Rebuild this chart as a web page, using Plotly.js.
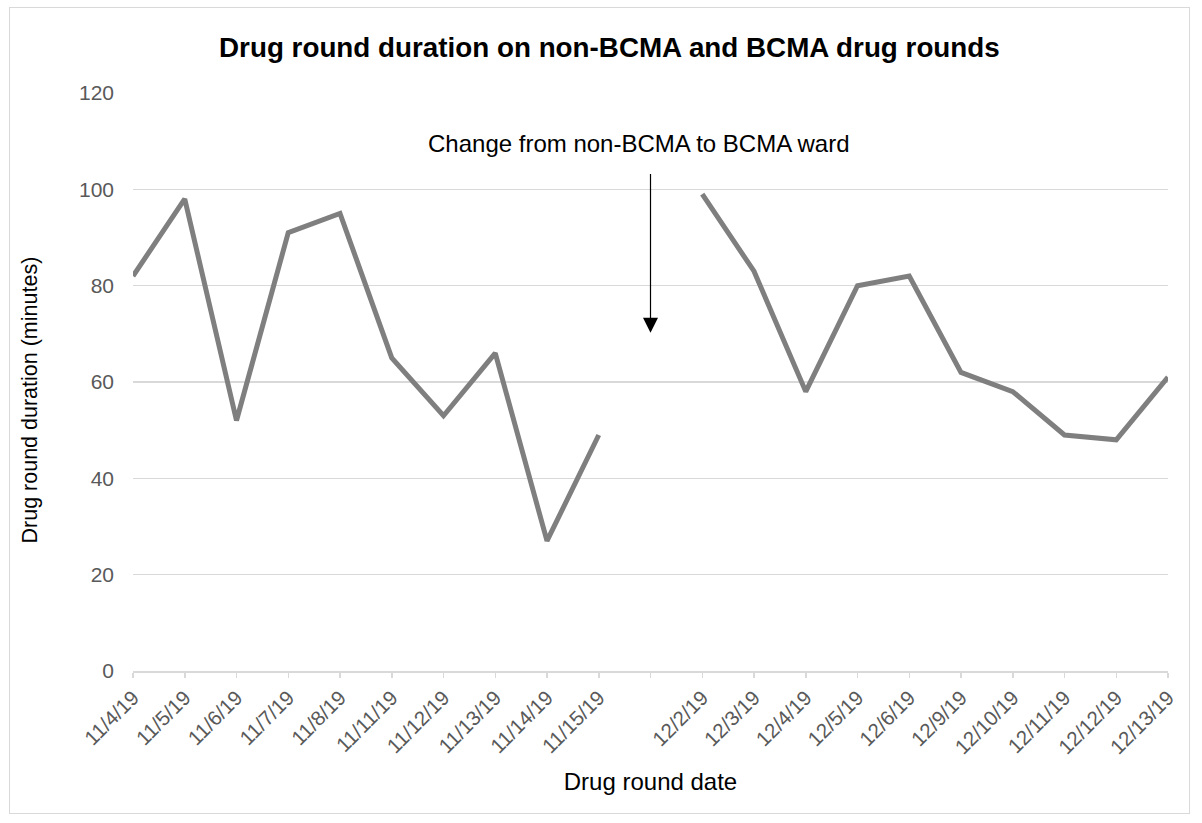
<!DOCTYPE html>
<html>
<head>
<meta charset="utf-8">
<script src="https://cdn.plot.ly/plotly-3.0.1.min.js"></script>
<style>
html,body{margin:0;padding:0;background:#fff;}
#frame{position:absolute;left:9px;top:7px;width:1181px;height:807px;border:1px solid #d9d9d9;box-sizing:border-box;pointer-events:none;z-index:10;}
#chart{width:1202px;height:823px;}
</style>
</head>
<body>
<div id="frame"></div>
<div id="chart"></div>
<script>
const dates = ["11/4/19","11/5/19","11/6/19","11/7/19","11/8/19","11/11/19","11/12/19","11/13/19","11/14/19","11/15/19"," ","12/2/19","12/3/19","12/4/19","12/5/19","12/6/19","12/9/19","12/10/19","12/11/19","12/12/19","12/13/19"];
const durations = [82,98,52,91,95,65,53,66,27,49,null,99,83,58,80,82,62,58,49,48,61];
const annotationText = "Change from non-BCMA to BCMA ward";
const yTitle = "Drug round duration (minutes)";

const trace = {
  x: dates, y: durations, type: 'scatter', mode: 'lines',
  line: {color: '#7f7f7f', width: 5}, connectgaps: false, hoverinfo: 'x+y'
};
const layout = {
  width: 1202, height: 823,
  margin: {l: 133, r: 34, t: 93, b: 152},
  paper_bgcolor: '#fff', plot_bgcolor: '#fff',
  font: {family: 'Liberation Sans, Arial, sans-serif'},
  showlegend: false,
  title: {text: '<b>Drug round duration on non-BCMA and BCMA drug rounds</b>', x: 0.507, xanchor: 'center', y: 0.943, yanchor: 'middle', font: {size: 27.8, color: '#000'}},
  xaxis: {
    type: 'category', range: [0, 20], tickangle: -45,
    tickfont: {size: 20.5, color: '#595959'},
    showgrid: false, showline: true, linecolor: '#d9d9d9', linewidth: 1.5,
    ticks: 'outside', ticklen: 5, tickcolor: '#d9d9d9', tickwidth: 1.5,
    zeroline: false,
    title: {text: 'Drug round date', font: {size: 24, color: '#000'}, standoff: 16}
  },
  yaxis: {
    range: [0, 120], dtick: 20, tickfont: {size: 21, color: '#595959'},
    showgrid: true, gridcolor: '#d9d9d9', gridwidth: 1.5, zeroline: false, showline: false,
    ticks: '', ticklabelstandoff: 18
  },
  annotations: [
    {x: 9.78, y: 109.6, xref: 'x', yref: 'y', text: annotationText, showarrow: false, font: {size: 24, color: '#000'}, xanchor: 'center', yanchor: 'middle'},
    {x: 10, y: 70.2, xref: 'x', yref: 'y', ax: 10, ay: 103.5, axref: 'x', ayref: 'y', text: '', showarrow: true, arrowhead: 2, arrowsize: 2.5, arrowwidth: 1.2, arrowcolor: '#000'},
    {x: -0.0995, y: 0.468, xref: 'paper', yref: 'paper', text: yTitle, textangle: -90, showarrow: false, font: {size: 21.5, color: '#000'}, xanchor: 'center', yanchor: 'middle'}
  ]
};
Plotly.newPlot('chart', [trace], layout, {displayModeBar: false, staticPlot: true});
</script>
</body>
</html>
